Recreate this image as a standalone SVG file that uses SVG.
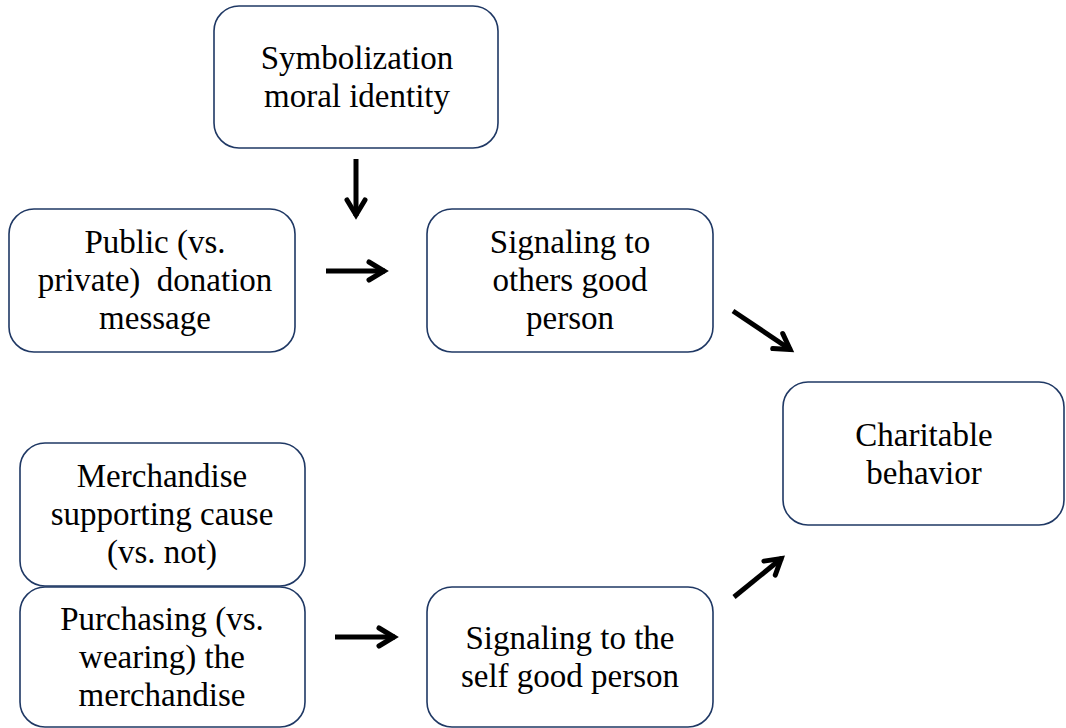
<svg xmlns="http://www.w3.org/2000/svg" width="1066" height="728" viewBox="0 0 1066 728">
<defs>
<style>
.box{fill:#ffffff;stroke:#1f3864;stroke-width:1.6}
.t{font-family:"Liberation Serif","Times New Roman",serif;font-size:33px;fill:#000;text-anchor:middle}
.c{stroke:#000;stroke-width:5;fill:none}
</style>
<marker id="ah" markerUnits="userSpaceOnUse" markerWidth="40" markerHeight="40" viewBox="-20 -20 40 40" refX="0" refY="0" orient="auto">
<path d="M-16,-9 L-1,0 L-16,9" fill="none" stroke="#000" stroke-width="5" stroke-linejoin="miter" stroke-linecap="round"/>
</marker>
</defs>
<rect width="1066" height="728" fill="#ffffff"/>
<g id="n-symbolization">
<rect class="box" x="214" y="6" width="284" height="142" rx="25"/>
<text class="t" x="357" y="69">Symbolization</text>
<text class="t" x="357" y="107">moral identity</text>
</g>
<g id="n-public">
<rect class="box" x="9" y="209" width="286" height="143" rx="25"/>
<text class="t" x="155" y="253">Public (vs.</text>
<text class="t" x="155" y="291">private)&#160; donation</text>
<text class="t" x="155" y="329">message</text>
</g>
<g id="n-others">
<rect class="box" x="427" y="209" width="286" height="143" rx="25"/>
<text class="t" x="570" y="253">Signaling to</text>
<text class="t" x="570" y="291">others good</text>
<text class="t" x="570" y="329">person</text>
</g>
<g id="n-charitable">
<rect class="box" x="783" y="382" width="281" height="143" rx="25"/>
<text class="t" x="924" y="446">Charitable</text>
<text class="t" x="924" y="484">behavior</text>
</g>
<g id="n-merch">
<rect class="box" x="20" y="443" width="285" height="143" rx="25"/>
<text class="t" x="162" y="487">Merchandise</text>
<text class="t" x="162" y="525">supporting cause</text>
<text class="t" x="162" y="563">(vs. not)</text>
</g>
<g id="n-purchasing">
<rect class="box" x="20" y="587" width="285" height="140" rx="25"/>
<text class="t" x="162" y="630">Purchasing (vs.</text>
<text class="t" x="162" y="668">wearing) the</text>
<text class="t" x="162" y="706">merchandise</text>
</g>
<g id="n-self">
<rect class="box" x="427" y="587" width="286" height="140" rx="25"/>
<text class="t" x="570" y="649">Signaling to the</text>
<text class="t" x="570" y="687">self good person</text>
</g>
<g id="connectors">
<line class="c" x1="356" y1="159" x2="356" y2="216" marker-end="url(#ah)"/>
<line class="c" x1="326" y1="271" x2="385" y2="271" marker-end="url(#ah)"/>
<line class="c" x1="733" y1="311" x2="791" y2="350" marker-end="url(#ah)"/>
<line class="c" x1="734" y1="597" x2="782" y2="558" marker-end="url(#ah)"/>
<line class="c" x1="335" y1="637" x2="395" y2="637" marker-end="url(#ah)"/>
</g>
</svg>
